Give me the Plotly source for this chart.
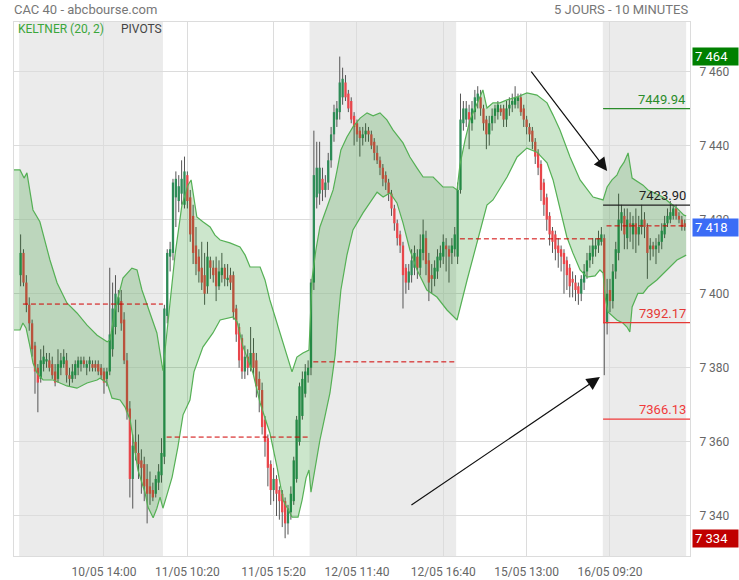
import plotly.graph_objects as go

# CAC 40, bougies 10 minutes, du 10/05 09:10 au 16/05 13:40
open_ = [
    # 10/05
    7405, 7411, 7403, 7397, 7392, 7386, 7380, 7377, 7381, 7382, 7382, 7381, 7379, 7377, 7380, 7381, 7382,
    7378, 7377, 7378, 7380, 7381, 7382, 7380, 7381, 7381, 7381, 7381, 7380, 7379, 7377, 7379, 7385, 7391,
    7397, 7398, 7393, 7382, 7369, 7350, 7360, 7357, 7355, 7354, 7350, 7348, 7347, 7346, 7349, 7351,
    # 11/05
    7356, 7394, 7410, 7411, 7426, 7425, 7427, 7424, 7432, 7426, 7421, 7413, 7410, 7407, 7405, 7402, 7409,
    7407, 7407, 7402, 7405, 7407, 7404, 7405, 7405, 7396, 7391, 7388, 7379, 7383, 7380, 7384, 7382, 7377,
    7374, 7366, 7361, 7354, 7347, 7350, 7347, 7346, 7344, 7338, 7341, 7344, 7350, 7360, 7367, 7373, 7378,
    # 12/05
    7380, 7403, 7426, 7427, 7431, 7428, 7430, 7436, 7443, 7447, 7449, 7453, 7457, 7454, 7452, 7448, 7446,
    7444, 7442, 7443, 7444, 7443, 7441, 7438, 7436, 7434, 7432, 7430, 7427, 7423, 7419, 7416, 7413, 7407,
    7403, 7405, 7407, 7410, 7407, 7411, 7415, 7409, 7405, 7404, 7406, 7409, 7410, 7413, 7412, 7411, 7412,
    # 15/05
    7410, 7428, 7446, 7447, 7449, 7446, 7449, 7452, 7453, 7450, 7447, 7443, 7446, 7448, 7449, 7450, 7450,
    7447, 7450, 7451, 7451, 7452, 7453, 7450, 7447, 7445, 7444, 7441, 7438, 7435, 7430, 7426, 7421, 7417,
    7416, 7413, 7412, 7411, 7409, 7407, 7404, 7403, 7402, 7400, 7403, 7406, 7409, 7410, 7412, 7413, 7414,
    # 16/05
    7415, 7392, 7401, 7398, 7406, 7411, 7419, 7421, 7415, 7419, 7416, 7419, 7416, 7418, 7420, 7418, 7412,
    7413, 7412, 7413, 7414, 7416, 7419, 7420, 7421, 7423, 7421, 7420, 7419,
]
high = [
    7416, 7412, 7405, 7399, 7393, 7387, 7381, 7385, 7386, 7384, 7384, 7383, 7381, 7385, 7384, 7385, 7384,
    7380, 7381, 7382, 7383, 7383, 7383, 7382, 7383, 7382, 7382, 7382, 7381, 7380, 7380, 7407, 7403, 7405,
    7401, 7401, 7395, 7384, 7371, 7362, 7366, 7362, 7358, 7356, 7354, 7352, 7349, 7351, 7354, 7361,
    7397, 7412, 7414, 7431, 7433, 7432, 7436, 7437, 7433, 7428, 7424, 7418, 7412, 7414, 7411, 7414, 7410,
    7409, 7410, 7409, 7411, 7408, 7408, 7407, 7406, 7397, 7392, 7389, 7386, 7385, 7391, 7388, 7384, 7379,
    7376, 7367, 7362, 7355, 7353, 7351, 7348, 7347, 7345, 7343, 7348, 7356, 7367, 7376, 7379, 7381, 7382,
    7404, 7444, 7441, 7441, 7434, 7432, 7438, 7445, 7451, 7452, 7464, 7461, 7459, 7455, 7453, 7449, 7447,
    7445, 7445, 7446, 7445, 7444, 7442, 7440, 7437, 7435, 7433, 7431, 7428, 7424, 7420, 7417, 7414, 7408,
    7408, 7412, 7413, 7412, 7416, 7420, 7417, 7411, 7408, 7409, 7412, 7413, 7416, 7415, 7413, 7415, 7418,
    7430, 7454, 7452, 7452, 7451, 7452, 7455, 7456, 7455, 7451, 7448, 7448, 7450, 7451, 7452, 7451, 7451,
    7452, 7453, 7454, 7456, 7454, 7454, 7451, 7448, 7446, 7445, 7442, 7439, 7436, 7431, 7427, 7422, 7418,
    7417, 7415, 7413, 7412, 7410, 7408, 7406, 7405, 7403, 7405, 7408, 7411, 7413, 7415, 7415, 7417, 7418,
    7416, 7404, 7404, 7408, 7414, 7427, 7424, 7423, 7423, 7422, 7421, 7423, 7421, 7424, 7422, 7419, 7415,
    7414, 7415, 7416, 7419, 7421, 7423, 7425, 7424, 7424, 7422, 7421, 7420,
]
low = [
    7402, 7402, 7395, 7390, 7383, 7373, 7368, 7376, 7379, 7380, 7379, 7377, 7375, 7376, 7378, 7380, 7376,
    7375, 7376, 7377, 7378, 7379, 7380, 7378, 7379, 7379, 7379, 7378, 7377, 7373, 7375, 7378, 7383, 7389,
    7395, 7390, 7381, 7366, 7345, 7342, 7355, 7350, 7346, 7344, 7338, 7343, 7344, 7345, 7347, 7349,
    7354, 7392, 7406, 7409, 7418, 7422, 7424, 7423, 7423, 7414, 7408, 7405, 7403, 7401, 7397, 7400, 7404,
    7403, 7398, 7401, 7403, 7402, 7402, 7401, 7393, 7387, 7380, 7377, 7377, 7378, 7379, 7378, 7372, 7368,
    7362, 7356, 7348, 7343, 7344, 7340, 7339, 7337, 7334, 7335, 7339, 7343, 7349, 7359, 7366, 7372, 7376,
    7378, 7401, 7423, 7424, 7425, 7426, 7428, 7434, 7441, 7445, 7447, 7451, 7452, 7449, 7446, 7440, 7441,
    7437, 7440, 7441, 7441, 7439, 7436, 7435, 7432, 7429, 7428, 7425, 7421, 7417, 7413, 7411, 7396, 7400,
    7401, 7403, 7405, 7404, 7405, 7409, 7405, 7398, 7400, 7402, 7404, 7407, 7408, 7406, 7403, 7408, 7410,
    7408, 7427, 7444, 7445, 7439, 7444, 7447, 7450, 7448, 7444, 7439, 7440, 7444, 7446, 7447, 7448, 7445,
    7445, 7448, 7449, 7450, 7450, 7448, 7445, 7443, 7441, 7439, 7435, 7432, 7425, 7421, 7417, 7413, 7411,
    7409, 7407, 7406, 7400, 7401, 7399, 7399, 7398, 7397, 7398, 7401, 7404, 7407, 7408, 7410, 7411, 7413,
    7378, 7389, 7395, 7396, 7404, 7409, 7417, 7412, 7412, 7414, 7412, 7411, 7413, 7416, 7415, 7404, 7409,
    7410, 7408, 7411, 7412, 7415, 7418, 7419, 7420, 7420, 7419, 7417, 7417,
]
close = [
    7411, 7403, 7397, 7392, 7385, 7379, 7376, 7382, 7383, 7382, 7380, 7378, 7376, 7381, 7382, 7383, 7378,
    7377, 7379, 7381, 7382, 7382, 7381, 7381, 7382, 7380, 7380, 7379, 7378, 7376, 7379, 7389, 7396, 7400,
    7399, 7392, 7382, 7368, 7350, 7359, 7357, 7354, 7353, 7348, 7346, 7346, 7345, 7350, 7352, 7357,
    7396, 7411, 7412, 7430, 7431, 7429, 7431, 7433, 7425, 7416, 7411, 7408, 7406, 7403, 7400, 7410, 7407,
    7405, 7402, 7406, 7407, 7404, 7404, 7403, 7395, 7389, 7382, 7379, 7383, 7380, 7384, 7380, 7375, 7374,
    7364, 7360, 7353, 7347, 7350, 7346, 7344, 7341, 7338, 7342, 7346, 7355, 7366, 7375, 7377, 7379, 7380,
    7403, 7432, 7434, 7434, 7428, 7430, 7436, 7443, 7449, 7450, 7457, 7458, 7453, 7450, 7447, 7445, 7443,
    7442, 7443, 7444, 7443, 7440, 7438, 7436, 7434, 7431, 7430, 7427, 7423, 7419, 7415, 7413, 7405, 7403,
    7406, 7409, 7411, 7407, 7412, 7416, 7408, 7403, 7404, 7407, 7410, 7411, 7414, 7412, 7410, 7413, 7416,
    7428, 7447, 7450, 7450, 7447, 7450, 7453, 7454, 7450, 7446, 7443, 7446, 7448, 7450, 7451, 7449, 7447,
    7450, 7451, 7452, 7453, 7453, 7449, 7447, 7445, 7443, 7441, 7437, 7434, 7428, 7424, 7420, 7416, 7414,
    7412, 7411, 7410, 7408, 7405, 7402, 7403, 7401, 7400, 7404, 7406, 7409, 7411, 7413, 7413, 7415, 7416,
    7392, 7400, 7398, 7406, 7412, 7420, 7422, 7416, 7420, 7418, 7419, 7416, 7418, 7420, 7418, 7411, 7413,
    7412, 7413, 7414, 7417, 7419, 7421, 7422, 7423, 7421, 7420, 7418, 7418,
]

# premiere / derniere bougie de chaque seance et cloture de reference (pointilles rouges)
session_start = [0, 50, 101, 152, 203]
session_end = [49, 100, 151, 202, 231]
ref_close = [7397.2, 7361.3, 7381.6, 7414.8, 7418.3]

# Keltner (20, 2)
band_up_x = [
    -2.3, -0.2, 1.2, 2.2, 4.3, 6.7, 10.2, 12.7, 16.1, 19.6, 23.1, 26.6, 30.1, 31.1, 32.8, 35.6, 38.7, 40.5,
    42.2, 44.3, 47.4, 49.5, 51.3, 53.7, 56.1, 58.2, 59.3, 61.3, 63.4, 65.9, 67.6, 69.4, 72.8, 76.3, 78.1,
    79.8, 83.3, 85.0, 86.7, 89.2, 91.3, 92.7, 94.4, 96.1, 98.2, 100.3, 101.4, 102.7, 104.1, 106.6, 108.7,
    110.1, 111.4, 113.5, 115.6, 118.1, 120.5, 122.6, 125.0, 127.4, 129.5, 133.0, 135.4, 137.9, 140.0,
    143.5, 146.9, 150.4, 151.8, 152.8, 154.6, 156.3, 158.4, 160.8, 162.2, 164.3, 166.7, 169.2, 172.7,
    176.1, 179.6, 183.1, 185.2, 187.6, 191.1, 194.6, 199.1, 202.6, 204.0, 205.7, 207.4, 208.5, 209.9,
    211.3, 212.7, 214.4, 216.5, 218.2, 220.6, 223.4, 225.9, 228.3, 230.7, 231.5,
]
band_up = [
    7433.4, 7433.4, 7431.2, 7432.6, 7422.6, 7419.4, 7409.1, 7402.9, 7397.5, 7394.8, 7391.5, 7388.8, 7387.0,
    7387.5, 7395.6, 7404.2, 7406.9, 7406.4, 7401.0, 7396.4, 7389.4, 7379.2, 7392.9, 7410.4, 7423.9, 7429.3,
    7430.7, 7420.7, 7419.4, 7418.0, 7415.8, 7414.5, 7413.7, 7412.6, 7410.4, 7407.2, 7407.2, 7403.7, 7398.3,
    7392.1, 7386.7, 7382.9, 7378.9, 7382.9, 7384.0, 7384.8, 7404.2, 7411.8, 7418.0, 7423.4, 7428.0, 7433.4,
    7438.8, 7442.3, 7445.0, 7447.4, 7448.8, 7448.0, 7448.8, 7446.9, 7444.2, 7440.7, 7436.9, 7433.9, 7431.5,
    7431.5, 7428.8, 7428.8, 7428.0, 7434.7, 7441.5, 7446.9, 7450.9, 7455.0, 7450.1, 7451.5, 7451.5, 7452.3,
    7453.1, 7454.2, 7453.6, 7451.5, 7448.2, 7444.2, 7436.9, 7430.7, 7426.1, 7425.3, 7428.8, 7430.7, 7432.0,
    7433.9, 7435.5, 7438.0, 7431.2, 7430.4, 7429.3, 7428.0, 7427.2, 7426.1, 7424.5, 7423.1, 7421.2, 7421.0,
]
band_lo_x = [
    -2.3, -0.2, 0.8, 1.9, 3.3, 4.3, 5.7, 7.8, 11.3, 13.7, 16.1, 19.6, 23.1, 26.6, 27.6, 30.1, 31.8, 34.6,
    36.3, 38.1, 39.1, 40.8, 43.3, 44.3, 46.1, 47.4, 48.5, 49.5, 50.9, 52.7, 54.7, 56.5, 58.9, 60.3, 63.4,
    66.9, 69.4, 71.8, 73.9, 75.3, 77.4, 80.8, 83.3, 86.7, 89.2, 91.3, 94.4, 96.5, 97.9, 99.3, 100.3, 101.0,
    102.4, 104.1, 107.6, 109.4, 110.4, 111.4, 113.5, 115.6, 119.1, 122.2, 124.0, 126.1, 128.5, 130.9,
    133.0, 135.4, 137.9, 141.3, 144.8, 148.3, 151.1, 151.8, 155.3, 159.8, 162.2, 164.3, 169.2, 172.7,
    176.1, 179.6, 183.1, 185.2, 187.6, 190.0, 192.1, 194.6, 197.0, 199.8, 201.5, 202.6, 203.3, 204.3,
    207.4, 209.5, 210.9, 211.9, 212.7, 214.7, 216.5, 218.2, 221.3, 224.8, 228.3, 231.5,
]
band_lo = [
    7390.2, 7390.2, 7392.1, 7390.7, 7385.6, 7381.3, 7378.6, 7376.7, 7376.7, 7375.9, 7375.1, 7374.5, 7375.9,
    7376.7, 7377.2, 7375.9, 7371.8, 7371.3, 7369.4, 7365.9, 7360.5, 7352.4, 7346.2, 7342.4, 7339.5, 7342.1,
    7345.1, 7342.1, 7345.7, 7350.5, 7358.6, 7367.3, 7371.3, 7378.9, 7385.6, 7389.4, 7392.9, 7393.4, 7393.7,
    7392.4, 7385.6, 7378.6, 7370.5, 7362.4, 7353.2, 7344.3, 7339.7, 7339.7, 7344.3, 7350.3, 7352.4, 7346.4,
    7352.4, 7360.5, 7373.2, 7383.5, 7392.9, 7401.0, 7410.4, 7417.2, 7421.8, 7425.3, 7427.4, 7426.1, 7427.2,
    7424.5, 7419.1, 7411.8, 7406.4, 7401.0, 7399.1, 7395.6, 7393.4, 7392.9, 7403.7, 7416.4, 7423.9, 7425.3,
    7431.5, 7436.9, 7439.3, 7438.2, 7435.3, 7430.7, 7422.6, 7415.3, 7411.0, 7406.4, 7404.5, 7404.8, 7406.4,
    7405.6, 7399.1, 7395.1, 7392.9, 7392.1, 7391.0, 7389.7, 7396.4, 7400.1, 7400.1, 7401.8, 7403.7, 7406.4,
    7409.1, 7410.4,
]

pivot_levels = [7449.94, 7423.90, 7392.17, 7366.13]
pivot_colors = ["#2a8c2a", "#222222", "#e53935", "#f03a3a"]

tick_idx = [29, 58, 88, 117, 147, 176, 205]
tick_labels = ["10/05 14:00", "11/05 10:20", "11/05 15:20", "12/05 11:40",
               "12/05 16:40", "15/05 13:00", "16/05 09:20"]
price_ticks = [7340, 7360, 7380, 7400, 7420, 7440, 7460]

GREEN = "#2e8b57"
RED = "#e8464b"
X_MIN, X_MAX = -2.3, 232.83
Y_MIN, Y_MAX = 7329.2, 7473.33


def fmt(v):
    return f"{v:,.0f}".replace(",", " ")


fig = go.Figure()

# meches
wx, wy = [], []
for i in range(len(close)):
    wx += [i, i, None]
    wy += [low[i], high[i], None]
fig.add_trace(go.Scatter(x=wx, y=wy, mode="lines", line=dict(color="#555555", width=1)))

# corps des bougies
bodies = {GREEN: ([], []), RED: ([], [])}
for i in range(len(close)):
    o, c = open_[i], close[i]
    b0, b1 = min(o, c), max(o, c)
    if b1 - b0 < 0.6:
        mid = (o + c) / 2
        b0, b1 = mid - 0.3, mid + 0.3
    col = GREEN if c >= o else RED
    bodies[col][0].extend([i, i, None])
    bodies[col][1].extend([b0, b1, None])
for col, (bx, by) in bodies.items():
    fig.add_trace(go.Scatter(x=bx, y=by, mode="lines", line=dict(color=col, width=2.3)))

# enveloppe Keltner (par-dessus les bougies)
fig.add_trace(go.Scatter(
    x=band_up_x + band_lo_x[::-1],
    y=band_up + band_lo[::-1],
    fill="toself",
    fillcolor="rgba(0, 128, 0, 0.2)",
    line=dict(width=0),
    mode="lines",
))
fig.add_trace(go.Scatter(x=band_up_x, y=band_up, mode="lines", line=dict(color="#55b055", width=1.2)))
fig.add_trace(go.Scatter(x=band_lo_x, y=band_lo, mode="lines", line=dict(color="#55b055", width=1.2)))

# fond gris une seance sur deux
for k in (0, 2, 4):
    fig.add_shape(type="rect", xref="x", yref="paper",
                  x0=session_start[k] - 0.5, x1=session_end[k] + 0.5, y0=0, y1=1,
                  fillcolor="#ebebeb", line_width=0, layer="below")

# clotures de reference
for k in range(len(ref_close)):
    fig.add_shape(type="line", xref="x", yref="y",
                  x0=session_start[k] + 0.8, x1=session_end[k] + 0.5,
                  y0=ref_close[k], y1=ref_close[k],
                  line=dict(color="#d00000", width=1, dash="5px,3px"))

# pivots du jour
for lvl, col in zip(pivot_levels, pivot_colors):
    fig.add_shape(type="line", xref="x", yref="y",
                  x0=session_start[-1] - 0.4, x1=X_MAX, y0=lvl, y1=lvl,
                  line=dict(color=col, width=1.3))
    fig.add_annotation(x=X_MAX - 0.7, y=lvl, xref="x", yref="y", text=f"{lvl:.2f}",
                       xanchor="right", yanchor="bottom", showarrow=False,
                       font=dict(size=13, color=col))

# fleches
fig.add_annotation(x=204.0, y=7433.1, ax=-77, ay=-101, text="", showarrow=True,
                   arrowhead=2, arrowsize=2.2, arrowwidth=1.2, arrowcolor="#111111")
fig.add_annotation(x=201.5, y=7377.5, ax=-190, ay=129, text="", showarrow=True,
                   arrowhead=2, arrowsize=2.2, arrowwidth=1.2, arrowcolor="#111111")

# etiquettes de prix a droite : plus haut, dernier, plus bas
for val, col in ((max(high), "#008000"), (close[-1], "#3b6cf6"), (min(low), "#c00000")):
    fig.add_annotation(xref="paper", x=1, xanchor="left", xshift=2,
                       yref="y", y=val, yanchor="middle",
                       text=fmt(val), showarrow=False, align="left",
                       width=41, height=13, borderpad=2, bgcolor=col,
                       font=dict(color="white", size=13))

# en-tetes
fig.add_annotation(xref="paper", yref="paper", x=0, y=1, xanchor="left", yanchor="middle",
                   yshift=13, xshift=-2, text="CAC 40 - abcbourse.com", showarrow=False,
                   font=dict(size=13, color="#777777"))
fig.add_annotation(xref="paper", yref="paper", x=1, y=1, xanchor="right", yanchor="middle",
                   yshift=13, text="5 JOURS - 10 MINUTES", showarrow=False,
                   font=dict(size=13, color="#777777"))
fig.add_annotation(xref="paper", yref="paper", x=0, y=1, xanchor="left", yanchor="middle",
                   yshift=-6.5, xshift=2, text="KELTNER (20, 2)", showarrow=False,
                   font=dict(size=12, color="#3aa63a"))
fig.add_annotation(xref="paper", yref="paper", x=0, y=1, xanchor="left", yanchor="middle",
                   yshift=-6.5, xshift=105, text="PIVOTS", showarrow=False,
                   font=dict(size=12, color="#444444"))

fig.update_layout(
    width=739,
    height=580,
    margin=dict(l=14, r=49, t=22, b=24, autoexpand=False),
    paper_bgcolor="white",
    plot_bgcolor="white",
    showlegend=False,
    hovermode=False,
    separators=". ",
    font=dict(family="Roboto, sans-serif", color="#666666"),
)
fig.update_xaxes(
    range=[X_MIN, X_MAX],
    tickmode="array",
    tickvals=tick_idx,
    ticktext=tick_labels,
    showgrid=True,
    gridcolor="#dcdcdc",
    zeroline=False,
    showline=True,
    linecolor="#dcdcdc",
    mirror=True,
    ticks="",
    ticklabelstandoff=5,
    automargin=False,
    tickfont=dict(size=12, color="#666666"),
)
fig.update_yaxes(
    range=[Y_MIN, Y_MAX],
    side="right",
    tickmode="array",
    tickvals=price_ticks,
    tickformat=",d",
    showgrid=True,
    gridcolor="#dcdcdc",
    zeroline=False,
    showline=True,
    linecolor="#dcdcdc",
    mirror=True,
    ticks="",
    ticklabelstandoff=6,
    automargin=False,
    tickfont=dict(size=12, color="#666666"),
)

# la page html garde par defaut 8 px de marge autour de la figure
fig.write_html(
    "out.html",
    config={"displayModeBar": False},
    post_script="document.body.style.margin = '0';",
)
